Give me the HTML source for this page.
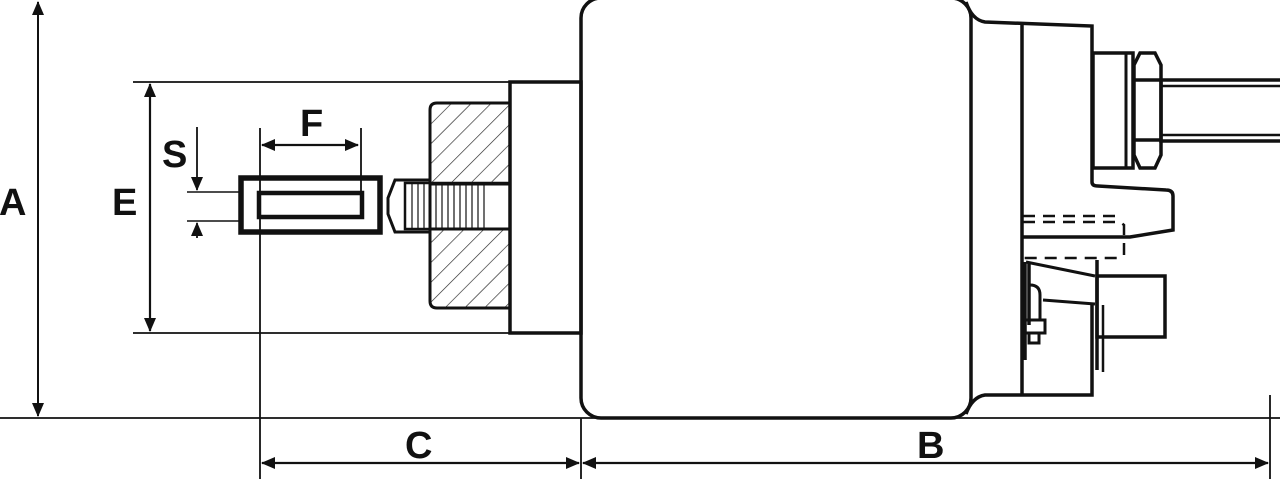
<!DOCTYPE html>
<html><head><style>body{margin:0;background:#fff}svg{display:block}text{font-family:"Liberation Sans",sans-serif;font-weight:bold;font-size:38px;fill:#111}</style></head>
<body>
<svg width="1280" height="479" viewBox="0 0 1280 479" xmlns="http://www.w3.org/2000/svg">
<defs>
<pattern id="h" width="14" height="14" patternUnits="userSpaceOnUse" patternTransform="rotate(45)"><line x1="0" y1="0" x2="0" y2="14" stroke="#222" stroke-width="1.3"/></pattern>
<marker id="ar" markerWidth="14" markerHeight="12" refX="13" refY="6" orient="auto-start-reverse" markerUnits="userSpaceOnUse"><path d="M0,0 L14,6 L0,12 Z" fill="#111"/></marker>
</defs>
<g stroke="#111" fill="none">
<line x1="38" y1="2" x2="38" y2="416" stroke-width="2" marker-start="url(#ar)" marker-end="url(#ar)"/>
<line x1="0" y1="418" x2="1280" y2="418" stroke-width="1.8"/>
<line x1="133" y1="82" x2="512" y2="82" stroke-width="1.8"/>
<line x1="133" y1="333" x2="512" y2="333" stroke-width="1.8"/>
<line x1="150" y1="84" x2="150" y2="331" stroke-width="2.2" marker-start="url(#ar)" marker-end="url(#ar)"/>
<line x1="260" y1="128" x2="260" y2="479" stroke-width="1.8"/>
<line x1="361" y1="128" x2="361" y2="192" stroke-width="1.8"/>
<line x1="262" y1="145" x2="358" y2="145" stroke-width="2.2" marker-start="url(#ar)" marker-end="url(#ar)"/>
<line x1="187" y1="192" x2="242" y2="192" stroke-width="1.4"/>
<line x1="187" y1="221" x2="242" y2="221" stroke-width="1.4"/>
<line x1="197" y1="127" x2="197" y2="190" stroke-width="1.8" marker-end="url(#ar)"/>
<line x1="197" y1="238" x2="197" y2="223" stroke-width="1.8" marker-end="url(#ar)"/>
<line x1="581" y1="418" x2="581" y2="479" stroke-width="1.8"/>
<line x1="1270" y1="395" x2="1270" y2="479" stroke-width="1.8"/>
<line x1="262" y1="463" x2="579" y2="463" stroke-width="2.2" marker-start="url(#ar)" marker-end="url(#ar)"/>
<line x1="583" y1="463" x2="1268" y2="463" stroke-width="2.2" marker-start="url(#ar)" marker-end="url(#ar)"/>
<rect x="241" y="178" width="139" height="54" stroke-width="5.5"/>
<rect x="259" y="193" width="103" height="24" stroke-width="4.5"/>
<path d="M395,180 L430,180 L430,232 L395,232 L388,214 L388,198 Z" stroke-width="3"/>
<rect x="405" y="183" width="105" height="46" stroke-width="2.5"/>
<g stroke-width="1.2">
<line x1="412" y1="184" x2="412" y2="228"/><line x1="418" y1="184" x2="418" y2="228"/><line x1="424" y1="184" x2="424" y2="228"/><line x1="430" y1="184" x2="430" y2="228"/><line x1="436" y1="184" x2="436" y2="228"/><line x1="442" y1="184" x2="442" y2="228"/><line x1="448" y1="184" x2="448" y2="228"/><line x1="454" y1="184" x2="454" y2="228"/><line x1="460" y1="184" x2="460" y2="228"/><line x1="466" y1="184" x2="466" y2="228"/><line x1="472" y1="184" x2="472" y2="228"/><line x1="478" y1="184" x2="478" y2="228"/><line x1="484" y1="184" x2="484" y2="228"/>
</g>
<path d="M430,110 Q430,103 437,103 L510,103 L510,184 L430,184 Z" fill="url(#h)" stroke-width="3"/>
<path d="M430,229 L510,229 L510,308 L437,308 Q430,308 430,301 Z" fill="url(#h)" stroke-width="3"/>
<rect x="510" y="82" width="71" height="251" stroke-width="3.5"/>
<rect x="581" y="-2" width="390" height="420" rx="20" stroke-width="3.5"/>
<path d="M966,2 Q972,20 985,22 L1092,26 L1092,182 Q1092,186 1098,186 L1166,190 Q1173,190 1173,196 L1173,230 L1130,237 L1022,237" stroke-width="3.5"/>
<path d="M966,414 Q972,397 985,395 L1092,395 L1092,305" stroke-width="3.5"/>
<line x1="1022" y1="22" x2="1022" y2="395" stroke-width="3.5"/>
<rect x="1093" y="53" width="40" height="115" stroke-width="3.5"/>
<line x1="1126" y1="53" x2="1126" y2="168" stroke-width="3"/>
<path d="M1140,53 L1155,53 L1161,65 L1161,155 L1155,168 L1140,168 L1134,155 L1134,65 Z" stroke-width="3.5"/>
<path d="M1135,80 L1160,80 M1135,140 L1160,140" stroke-width="3.5"/>
<rect x="1161" y="80" width="125" height="61" stroke-width="3.5"/>
<path d="M1161,86 L1280,86 M1161,135 L1280,135" stroke-width="2.5"/>
<g stroke-width="2.5" stroke-dasharray="12,8">
<path d="M1023,216 L1118,216 M1023,222 L1120,222 L1124,225 L1124,255 L1118,258 L1023,258"/>
</g>
<rect x="1097" y="276" width="68" height="61" stroke-width="3.5"/>
<line x1="1097" y1="260" x2="1097" y2="370" stroke-width="3.5"/>
<line x1="1103" y1="305" x2="1103" y2="372" stroke-width="2.5"/>
<path d="M1026,262 L1095,276 M1043,300 L1095,304" stroke-width="3"/>
<path d="M1025,262 L1025,360 M1029,262 L1029,325" stroke-width="3.5"/>
<path d="M1030,285 Q1040,285 1040,295 L1040,320" stroke-width="3"/>
<rect x="1025" y="320" width="20" height="13" stroke-width="3"/>
<rect x="1029" y="333" width="10" height="10" stroke-width="3"/>
</g>
<text x="-1" y="215">A</text>
<text x="112" y="215">E</text>
<text x="162" y="167" font-size="36">S</text>
<text x="300" y="136" font-size="36">F</text>
<text x="405" y="458">C</text>
<text x="917" y="458">B</text>
</svg>
</body></html>
